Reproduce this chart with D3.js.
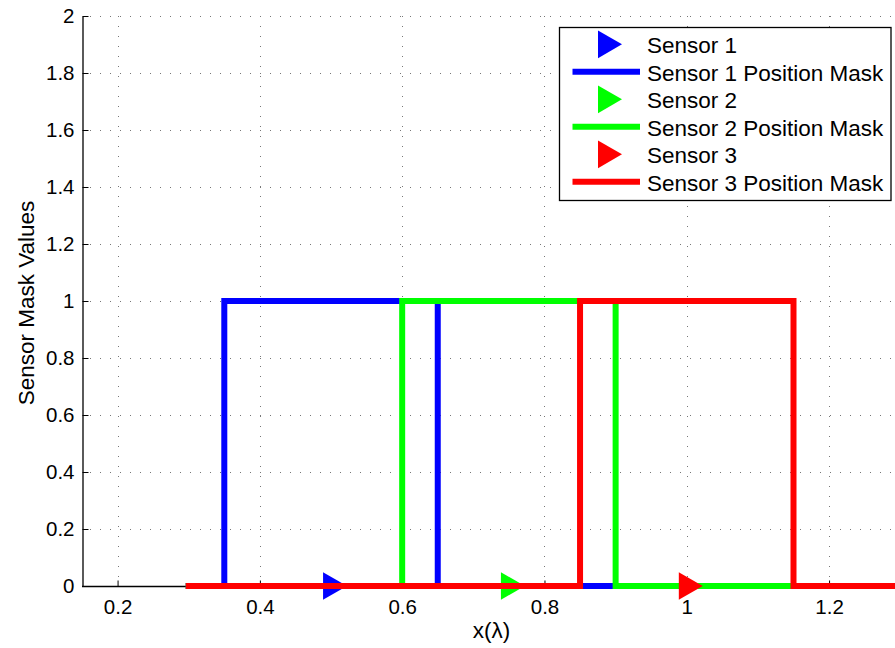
<!DOCTYPE html>
<html>
<head>
<meta charset="utf-8">
<script src="https://d3js.org/d3.v7.min.js"></script>
<style>
  body { margin: 0; background: #fff; }
  text { font-family: "Liberation Sans", Arial, sans-serif; }
</style>
</head>
<body>
<svg id="chart" width="895" height="648"></svg>
<script>
// data
const xTicks = [0.2, 0.4, 0.6, 0.8, 1, 1.2];
const yTicks = [0, 0.2, 0.4, 0.6, 0.8, 1, 1.2, 1.4, 1.6, 1.8, 2];
const maskX = [0.3, 0.35, 0.35, 0.6, 0.6, 0.65, 0.65, 0.85, 0.85, 0.9, 0.9, 1.15, 1.15, 1.4];
const mask1 = [0, 0, 1, 1, 1, 1, 0, 0, 0, 0, 0, 0, 0, 0];
const mask2 = [0, 0, 0, 0, 1, 1, 1, 1, 1, 1, 0, 0, 0, 0];
const mask3 = [0, 0, 0, 0, 0, 0, 0, 0, 1, 1, 1, 1, 0, 0];
const sensorX = [0.5, 0.75, 1.0];
const sensorY = [0, 0, 0];
const seriesNames = ["Sensor 1", "Sensor 2", "Sensor 3"];
const colors = ["#0000ff", "#00ff00", "#ff0000"];

const svg = d3.select("svg#chart");

const x = d3.scaleLinear().domain([0.15, 1.35]).range([82, 82 + 1.2 * 711.5]);
const y = d3.scaleLinear().domain([0, 2]).range([586, 16]);

svg.append("clipPath").attr("id", "clip")
  .append("rect").attr("x", 82).attr("y", 0).attr("width", 813).attr("height", 600);

// grid
const grid = svg.append("g").attr("stroke", "#777").attr("stroke-width", 1)
  .attr("stroke-dasharray", "1,9");
grid.selectAll("line.gx").data(xTicks).join("line").attr("class", "gx")
  .attr("x1", d => Math.round(x(d)) + 0.5).attr("x2", d => Math.round(x(d)) + 0.5)
  .attr("y1", y(2)).attr("y2", y(0));
grid.selectAll("line.gy").data(yTicks.slice(1)).join("line").attr("class", "gy")
  .attr("y1", d => Math.round(y(d)) + 0.5).attr("y2", d => Math.round(y(d)) + 0.5)
  .attr("x1", x(0.15) + 8).attr("x2", 895);

// axes
const xAxis = svg.append("g").attr("transform", `translate(0,${Math.round(y(0)) + 0.5})`)
  .call(d3.axisBottom(x).tickValues(xTicks).tickSizeInner(-6).tickSizeOuter(0).tickPadding(13)
    .tickFormat(d3.format("")));
const yAxis = svg.append("g").attr("transform", `translate(${Math.round(x(0.15)) + 0.5},0)`)
  .call(d3.axisLeft(y).tickValues(yTicks).tickSizeInner(-6).tickSizeOuter(0).tickPadding(8)
    .tickFormat(d3.format("")));
[xAxis, yAxis].forEach(a => {
  a.select(".domain").attr("stroke", "#000").attr("stroke-width", 1.3);
  a.selectAll(".tick line").attr("stroke", "#000");
  a.selectAll(".tick text").attr("font-size", 20.5).attr("fill", "#000")
    .style("font-family", "Liberation Sans, Arial, sans-serif");
});
xAxis.select(".domain").attr("d", `M${x(0.15)},0H895`);

// data layers
const plot = svg.append("g").attr("clip-path", "url(#clip)");
const masks = [mask1, mask2, mask3];
const line = d3.line().x(d => x(d[0])).y(d => y(d[1]));
const tri = d3.symbol().type(d3.symbolTriangle).size(332);

masks.forEach((m, i) => {
  plot.append("path")
    .attr("d", tri())
    .attr("transform", `translate(${x(sensorX[i])},${y(sensorY[i])}) rotate(90)`)
    .attr("fill", colors[i]);
  plot.append("path")
    .datum(maskX.map((v, j) => [v, m[j]]))
    .attr("d", line)
    .attr("fill", "none")
    .attr("stroke", colors[i])
    .attr("stroke-width", 6)
    .attr("stroke-linejoin", "miter")
    .attr("stroke-linecap", "square");
});

// axis labels
svg.append("text").attr("x", 491.5).attr("y", 638).attr("font-size", 22.5)
  .attr("text-anchor", "middle").text("x(λ)");
svg.append("text").attr("transform", `translate(33.5,303) rotate(-90)`)
  .attr("font-size", 22.5).attr("text-anchor", "middle").text("Sensor Mask Values");

// legend
const lg = svg.append("g");
lg.append("rect").attr("x", 559.5).attr("y", 27.5).attr("width", 331.5).attr("height", 173)
  .attr("fill", "#fff").attr("stroke", "#000").attr("stroke-width", 1.3);
const rows = [];
seriesNames.forEach((s, i) => {
  rows.push({label: s, kind: "marker", color: colors[i]});
  rows.push({label: s + " Position Mask", kind: "line", color: colors[i]});
});
rows.forEach((r, i) => {
  const cy = 44.3 + i * 27.5;
  if (r.kind === "marker") {
    lg.append("path").attr("d", tri())
      .attr("transform", `translate(606,${cy}) rotate(90)`).attr("fill", r.color);
  } else {
    lg.append("line").attr("x1", 572.5).attr("x2", 640).attr("y1", cy).attr("y2", cy)
      .attr("stroke", r.color).attr("stroke-width", 6);
  }
  lg.append("text").attr("x", 647).attr("y", cy + 9).attr("font-size", 22.5).text(r.label);
});
</script>
</body>
</html>
